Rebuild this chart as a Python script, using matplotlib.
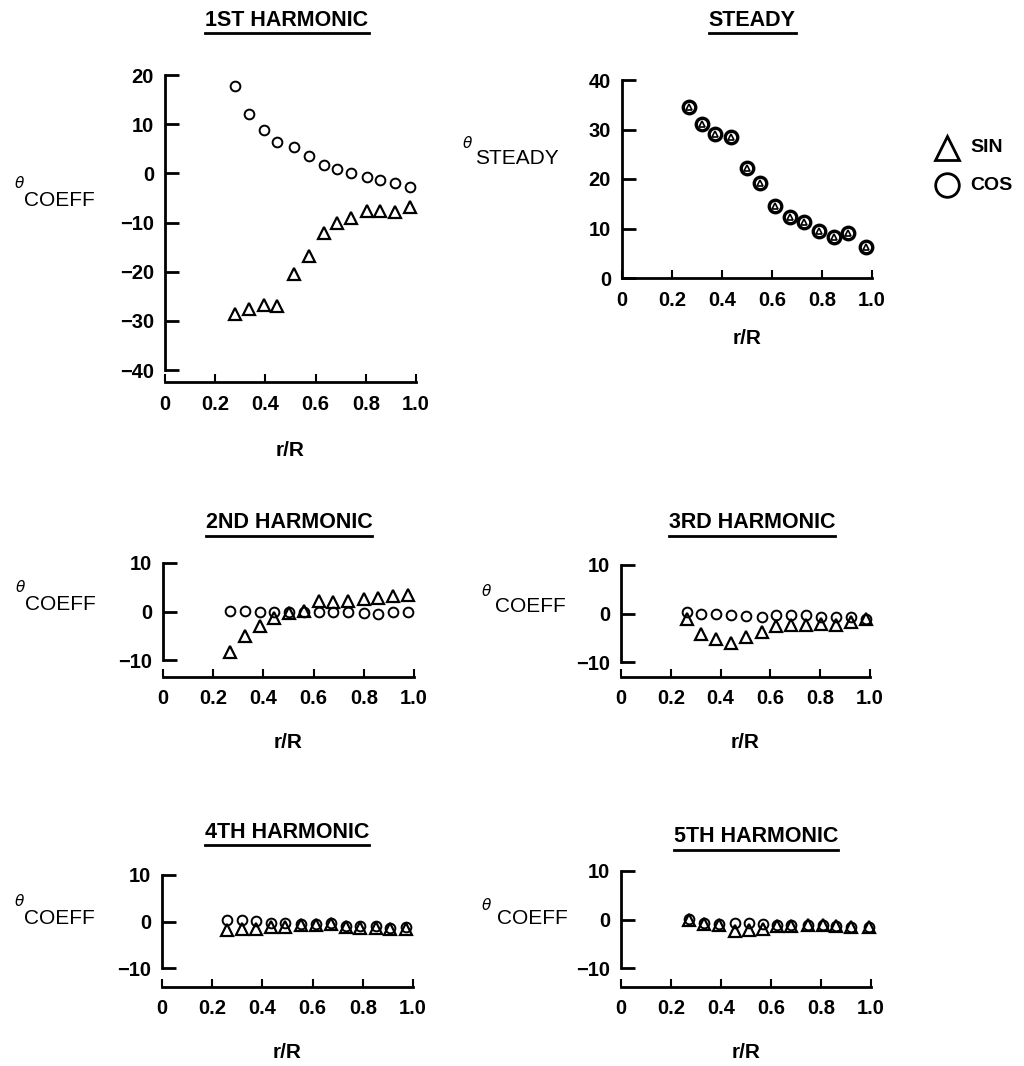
import numpy as np
import matplotlib
matplotlib.use("Agg")
import matplotlib.pyplot as plt
from matplotlib.lines import Line2D

plt.rcParams['font.family'] = ['Liberation Sans', 'DejaVu Sans']

# radial stations (r/R) and angle coefficients (deg), per harmonic
r_first = [0.280, 0.335, 0.393, 0.447, 0.513, 0.575, 0.632, 0.686, 0.742, 0.804, 0.855, 0.918, 0.978]
cos_first = [17.8, 12.1, 8.9, 6.4, 5.3, 3.5, 1.7, 0.8, 0.1, -0.8, -1.4, -2.0, -2.8]
sin_first = [-28.6, -27.5, -26.8, -26.9, -20.5, -16.9, -12.2, -10.2, -9.0, -7.7, -7.7, -7.8, -6.8]

r_steady = [0.269, 0.320, 0.371, 0.437, 0.500, 0.553, 0.611, 0.671, 0.729, 0.788, 0.847, 0.904, 0.977]
steady = [34.6, 31.1, 29.1, 28.4, 22.2, 19.2, 14.5, 12.4, 11.3, 9.5, 8.3, 9.1, 6.3]

r_second = [0.266, 0.327, 0.385, 0.443, 0.501, 0.560, 0.622, 0.678, 0.739, 0.802, 0.857, 0.918, 0.977]
cos_second = [0.1, 0.2, 0.0, 0.0, -0.1, 0.0, -0.1, -0.1, 0.0, -0.3, -0.6, -0.1, 0.0]
sin_second = [-8.4, -5.0, -3.0, -1.4, -0.3, 0.2, 2.2, 2.0, 2.2, 2.6, 2.8, 3.2, 3.5]

r_third = [0.265, 0.320, 0.381, 0.443, 0.504, 0.565, 0.623, 0.681, 0.741, 0.802, 0.865, 0.923, 0.983]
cos_third = [0.3, -0.1, -0.1, -0.3, -0.6, -0.7, -0.3, -0.3, -0.3, -0.7, -0.8, -0.8, -1.1]
sin_third = [-1.2, -4.3, -5.3, -6.1, -4.8, -3.8, -2.6, -2.4, -2.3, -2.2, -2.3, -1.7, -1.2]

r_fourth = [0.260, 0.318, 0.373, 0.436, 0.489, 0.555, 0.612, 0.672, 0.734, 0.788, 0.851, 0.910, 0.971]
cos_fourth = [0.3, 0.3, 0.2, -0.3, -0.4, -0.6, -0.6, -0.4, -0.9, -1.0, -0.9, -1.3, -1.2]
sin_fourth = [-1.8, -1.7, -1.6, -1.1, -1.2, -0.8, -0.7, -0.6, -1.1, -1.3, -1.5, -1.6, -1.7]

r_fifth = [0.270, 0.333, 0.393, 0.455, 0.513, 0.568, 0.624, 0.681, 0.748, 0.807, 0.861, 0.920, 0.993]
cos_fifth = [0.1, -0.8, -0.9, -0.7, -0.7, -0.9, -1.2, -1.2, -1.2, -1.2, -1.4, -1.5, -1.5]
sin_fifth = [-0.2, -0.9, -1.1, -2.4, -2.2, -2.0, -1.3, -1.3, -1.1, -1.2, -1.4, -1.6, -1.6]

x_ticks = [0, 0.2, 0.4, 0.6, 0.8, 1.0]
x_ticklabels = ['0', '0.2', '0.4', '0.6', '0.8', '1.0']

W, H = 1024, 1066
fig = plt.figure(figsize=(W / 100, H / 100), dpi=100)
PT = 0.72  # points per pixel at 100 dpi


def make_axes(x0, x1, ytop, ybot, ymax, ymin, yticks, spine_px, xlabel_pad):
    # x0/x1: pixel columns of r/R = 0 and 1; ytop/ybot: pixel rows of ymax/ymin
    ax = fig.add_axes([x0 / W, 1 - ybot / H, (x1 - x0) / W, (ybot - ytop) / H])
    ax.set_xlim(0, 1)
    ax.set_ylim(ymin, ymax)
    for s in ('top', 'right'):
        ax.spines[s].set_visible(False)
    for s in ('left', 'bottom'):
        ax.spines[s].set_linewidth(2.0)
    ax.spines['bottom'].set_position(('outward', spine_px * PT))
    ax.set_xticks(x_ticks)
    ax.set_xticklabels(x_ticklabels)
    ax.set_yticks(yticks)
    ax.tick_params(axis='y', direction='in', length=10, width=2.0, pad=8,
                   labelsize=14.5)
    ax.tick_params(axis='x', direction='in', length=6, width=1.5, pad=9,
                   labelsize=14.5)
    for lab in ax.get_xticklabels() + ax.get_yticklabels():
        lab.set_fontweight('bold')
    ax.set_xlabel('r/R', fontsize=15, fontweight='bold', labelpad=xlabel_pad)
    ax.patch.set_visible(False)
    return ax


def plot_pair(ax, r, sin_vals, cos_vals):
    ax.plot(r, cos_vals, linestyle='none', marker='o', ms=7, mfc='none',
            mec='black', mew=1.4, clip_on=False)
    ax.plot(r, sin_vals, linestyle='none', marker='^', ms=9, mfc='none',
            mec='black', mew=1.6, clip_on=False)


def y_label(x, y, sub, sub_dx=9, sub_dy=17):
    fig.text(x / W, 1 - y / H, '\u03b8', fontsize=11, fontstyle='italic',
             ha='left', va='center', family=['DejaVu Sans'])
    fig.text((x + sub_dx) / W, 1 - (y + sub_dy) / H, sub, fontsize=15,
             ha='left', va='center')


titles = []


def title(cx, cy, text):
    t = fig.text(cx / W, 1 - cy / H, text, fontsize=15.5, fontweight='bold',
                 ha='center', va='center')
    titles.append(t)


# 1st harmonic
ax1 = make_axes(165, 416, 75, 370, 20, -40, [-40, -30, -20, -10, 0, 10, 20], 12, 20)
plot_pair(ax1, r_first, sin_first, cos_first)
title(287, 20, '1ST HARMONIC')
y_label(15, 183, 'COEFF')

# steady component (sin and cos symbols drawn on top of each other)
ax2 = make_axes(622, 872, 80, 278, 40, 0, [0, 10, 20, 30, 40], 0, 14)
ax2.plot(r_steady, steady, linestyle='none', marker='o', ms=9, mfc='white',
         mec='black', mew=2.4, clip_on=False)
ax2.plot(r_steady, steady, linestyle='none', marker='^', ms=5, mfc='none',
         mec='black', mew=1.2, clip_on=False)
title(752, 20, 'STEADY')
y_label(463, 143, 'STEADY', sub_dx=12, sub_dy=15)

# 2nd harmonic
ax3 = make_axes(163, 414, 563, 660, 10, -10, [-10, 0, 10], 17, 18)
plot_pair(ax3, r_second, sin_second, cos_second)
title(289, 523, '2ND HARMONIC')
y_label(16, 588, 'COEFF')

# 3rd harmonic
ax4 = make_axes(621, 870, 565, 662, 10, -10, [-10, 0, 10], 15, 18)
plot_pair(ax4, r_third, sin_third, cos_third)
title(752, 523, '3RD HARMONIC')
y_label(482, 592, 'COEFF', sub_dx=13, sub_dy=15)

# 4th harmonic
ax5 = make_axes(162, 413, 875, 968, 10, -10, [-10, 0, 10], 19, 18)
plot_pair(ax5, r_fourth, sin_fourth, cos_fourth)
title(287, 832, '4TH HARMONIC')
y_label(15, 902, 'COEFF')

# 5th harmonic
ax6 = make_axes(621, 871, 871, 968, 10, -10, [-10, 0, 10], 19, 18)
plot_pair(ax6, r_fifth, sin_fifth, cos_fifth)
title(756, 837, '5TH HARMONIC')
y_label(482, 906, 'COEFF', sub_dx=15, sub_dy=13)

# key
fig.add_artist(Line2D([947 / W], [1 - 148 / H], marker='^', ms=17, mfc='none',
                      mec='black', mew=2.0, linestyle='none',
                      transform=fig.transFigure))
fig.add_artist(Line2D([947 / W], [1 - 185 / H], marker='o', ms=17, mfc='none',
                      mec='black', mew=2.0, linestyle='none',
                      transform=fig.transFigure))
fig.text(970 / W, 1 - 148 / H, 'SIN', fontsize=14, fontweight='bold', va='center')
fig.text(970 / W, 1 - 186 / H, 'COS', fontsize=14, fontweight='bold', va='center')

# underline the panel titles
fig.canvas.draw()
renderer = fig.canvas.get_renderer()
for t in titles:
    bb = t.get_window_extent(renderer)
    y = (bb.y0 - 2) / H
    fig.add_artist(Line2D([bb.x0 / W, bb.x1 / W], [y, y], color='black',
                          lw=2.0, transform=fig.transFigure))

fig.savefig('out.png', dpi=100, facecolor='white')
